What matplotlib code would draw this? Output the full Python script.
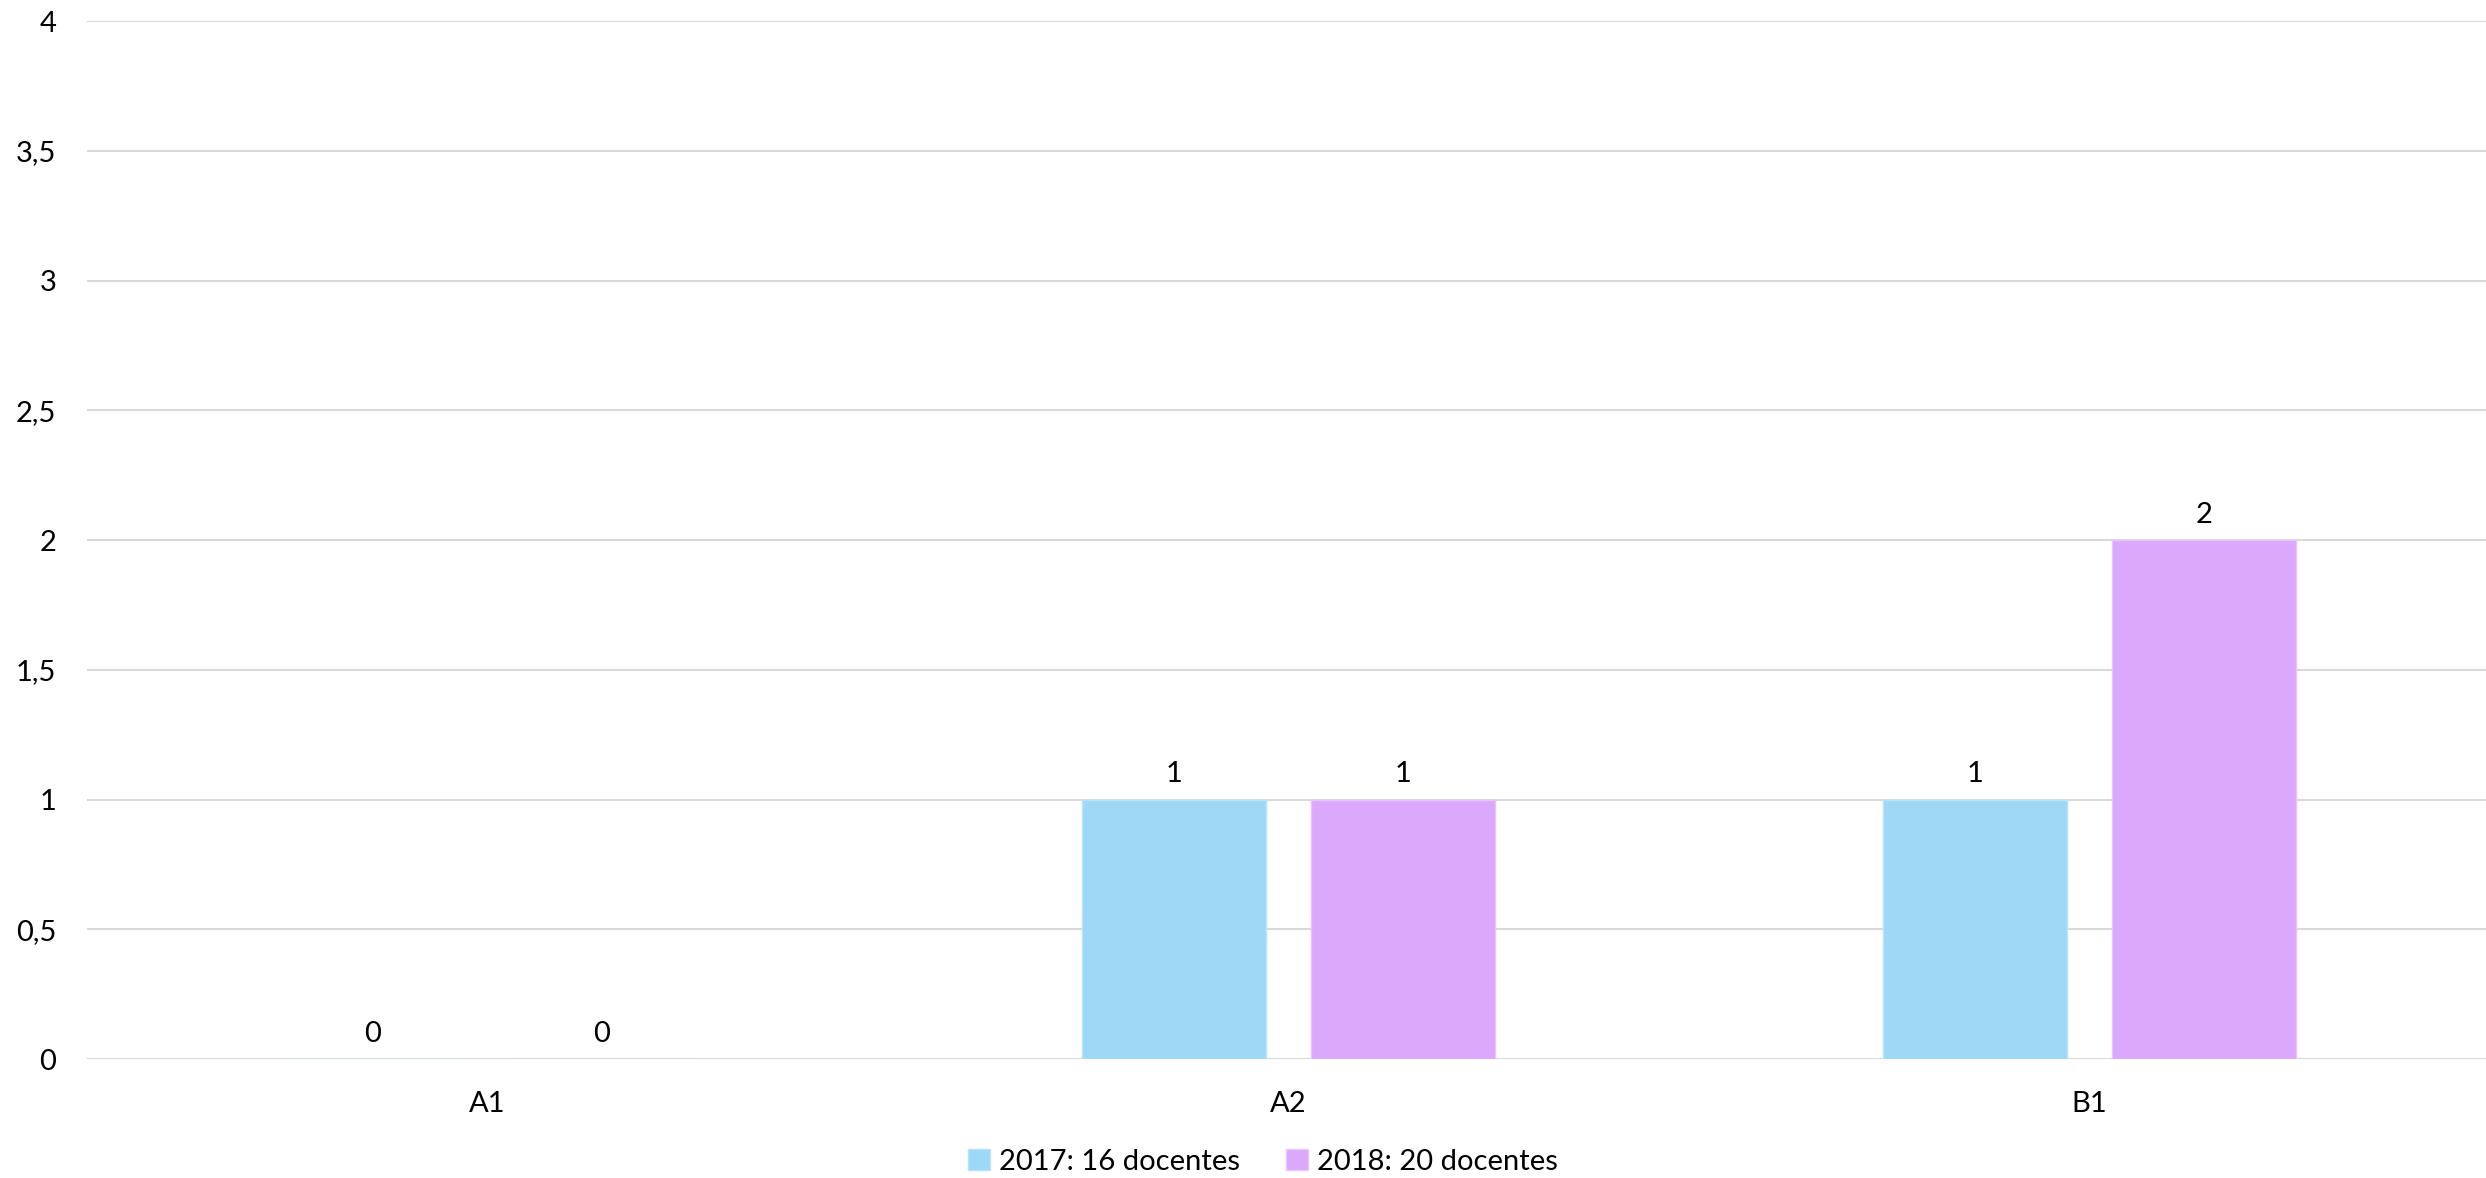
import matplotlib
matplotlib.use("Agg")
import matplotlib.pyplot as plt
import numpy as np
from matplotlib.ticker import FuncFormatter

# datos
niveles = ["A1", "A2", "B1"]
docentes_2017 = [0, 1, 1]
docentes_2018 = [0, 1, 2]
etiquetas = ["2017: 16 docentes", "2018: 20 docentes"]
colores = ["#9DD9F7", "#DCA8FC"]

plt.rcParams['font.family'] = ['Lato', 'DejaVu Sans']
fs = 21

fig = plt.figure(figsize=(24.86, 11.78), dpi=100)
ax = fig.add_axes([0.035, 0.101, 0.9666, 0.881])

x = np.arange(len(niveles))
ancho = 0.23
sep = 0.143

b1 = ax.bar(x - sep, docentes_2017, ancho, color=colores[0], edgecolor="#B8E4FA",
            linewidth=1, label=etiquetas[0], zorder=3)
b2 = ax.bar(x + sep, docentes_2018, ancho, color=colores[1], edgecolor="#E6C4FD",
            linewidth=1, label=etiquetas[1], zorder=3)

ax.bar_label(b1, labels=[str(v) for v in docentes_2017], padding=9, fontsize=fs, color="#000000")
ax.bar_label(b2, labels=[str(v) for v in docentes_2018], padding=9, fontsize=fs, color="#000000")

ax.set_xlim(-0.5, 2.5)
ax.set_ylim(0, 4)
ax.set_yticks(np.arange(0, 4.01, 0.5))
ax.yaxis.set_major_formatter(FuncFormatter(lambda v, p: ("%g" % v).replace(".", ",")))
ax.set_xticks(x)
ax.set_xticklabels(niveles)

ax.grid(axis="y", color="#D9D9D9", linewidth=1.5, zorder=0)
ax.set_axisbelow(True)
for s in ax.spines.values():
    s.set_visible(False)
ax.tick_params(axis="both", length=0, labelsize=fs)
ax.tick_params(axis="y", pad=22)
ax.tick_params(axis="x", pad=23)

fig.legend(loc="center", bbox_to_anchor=(0.508, 0.0136), ncol=2, frameon=False,
           fontsize=fs, handlelength=0.75, handleheight=0.75, handletextpad=0.3,
           columnspacing=1.6, borderpad=0, borderaxespad=0)

fig.savefig("out.png", dpi=100)
